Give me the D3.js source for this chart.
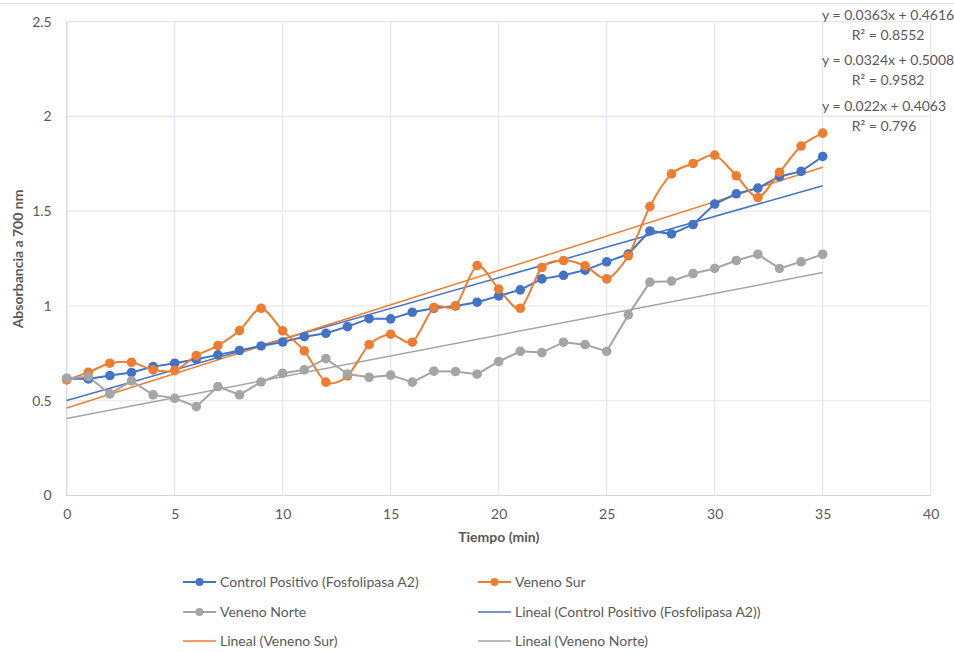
<!DOCTYPE html>
<html>
<head>
<meta charset="utf-8">
<script src="https://cdn.jsdelivr.net/npm/d3@7"></script>
<style>
  body { margin: 0; background: #fff; }
  text { font-family: Lato, "Open Sans", sans-serif; fill: #595959; }
</style>
</head>
<body>
<div id="chart"></div>
<script>
// data
const tiempo = d3.range(0, 36);
const controlPositivo = [0.617,0.615,0.633,0.649,0.680,0.698,0.719,0.742,0.765,0.789,0.810,0.838,0.856,0.891,0.933,0.932,0.967,0.988,1.000,1.020,1.053,1.085,1.143,1.162,1.189,1.233,1.274,1.396,1.380,1.430,1.538,1.592,1.622,1.683,1.710,1.789];
const venenoSur = [0.610,0.650,0.698,0.703,0.663,0.659,0.738,0.791,0.870,0.988,0.869,0.763,0.598,0.631,0.796,0.851,0.809,0.992,1.000,1.213,1.089,0.988,1.203,1.240,1.212,1.143,1.265,1.525,1.697,1.752,1.796,1.687,1.572,1.706,1.844,1.912];
const venenoNorte = [0.619,0.627,0.536,0.605,0.531,0.513,0.469,0.575,0.531,0.599,0.645,0.663,0.722,0.641,0.624,0.635,0.598,0.656,0.654,0.640,0.707,0.761,0.754,0.809,0.796,0.761,0.953,1.126,1.131,1.171,1.198,1.240,1.273,1.198,1.233,1.273];

const seriesNames = ["Control Positivo (Fosfolipasa A2)", "Veneno Sur", "Veneno Norte"];
const seriesColors = ["#4472C4", "#ED7D31", "#A5A5A5"];
// trendline coefficients (as printed on the chart)
const trendSlope = [0.0324, 0.0363, 0.022];
const trendIntercept = [0.5008, 0.4616, 0.4063];
const trendR2 = [0.9582, 0.8552, 0.796];
const trendSlopeLabel = ["0.0324", "0.0363", "0.022"];
const trendInterceptLabel = ["0.5008", "0.4616", "0.4063"];
// order of the equation labels, top to bottom
const labelOrder = [1, 0, 2];

const xTicks = [0, 5, 10, 15, 20, 25, 30, 35, 40];
const yTicks = [0, 0.5, 1, 1.5, 2, 2.5];

const W = 954, H = 652;
const margin = {top: 21.7, right: 23.3, bottom: 156.5, left: 66.7};
const width = W - margin.left - margin.right;
const height = H - margin.top - margin.bottom;
const fontSize = "14px";

const root = d3.select("#chart").append("svg")
    .attr("width", W)
    .attr("height", H);

// chart border (top edge visible)
root.append("line")
    .attr("x1", 0).attr("x2", W)
    .attr("y1", 3.5).attr("y2", 3.5)
    .attr("stroke", "#e3e3e3");

const svg = root.append("g")
    .attr("transform", "translate(" + margin.left + "," + margin.top + ")");

// scale
const x = d3.scaleLinear().domain([0, 40]).range([0, width]);
const y = d3.scaleLinear().domain([0, 2.5]).range([height, 0]);

// grid
svg.append("g")
    .selectAll("line")
    .data(yTicks)
    .join("line")
    .attr("x1", 0).attr("x2", width)
    .attr("y1", d => y(d)).attr("y2", d => y(d))
    .attr("stroke", d => d === 0 ? "#d0d4da" : "#e3e6ea")
    .attr("stroke-width", 1.2);

svg.append("g")
    .selectAll("line")
    .data(xTicks)
    .join("line")
    .attr("x1", d => x(d)).attr("x2", d => x(d))
    .attr("y1", 0).attr("y2", height)
    .attr("stroke", d => d === 0 ? "#d0d4da" : "#e3e6ea")
    .attr("stroke-width", 1.2);

// axis
const xAxis = d3.axisBottom(x).tickValues(xTicks).tickSize(0).tickPadding(14);
const yAxis = d3.axisLeft(y).tickValues(yTicks).tickSize(0).tickPadding(15).tickFormat(d => String(d));

const xg = svg.append("g").attr("transform", "translate(0," + height + ")").call(xAxis);
const yg = svg.append("g").call(yAxis);
[xg, yg].forEach(g => {
    g.select(".domain").remove();
    g.selectAll("text")
        .style("font-family", "Lato, sans-serif")
        .style("font-size", fontSize)
        .attr("fill", "#595959");
});

// axis titles
svg.append("text")
    .attr("x", width / 2)
    .attr("y", height + 47)
    .attr("text-anchor", "middle")
    .style("font-size", fontSize)
    .style("font-weight", "bold")
    .text("Tiempo (min)");

svg.append("text")
    .attr("transform", "translate(" + (18 - margin.left) + "," + (259 - margin.top) + ") rotate(-90)")
    .attr("text-anchor", "middle")
    .attr("dy", "0.35em")
    .style("font-size", fontSize)
    .style("font-weight", "bold")
    .text("Absorbancia a 700 nm");

// trendlines
const trendEnds = [0, 35];
trendSlope.forEach((m, i) => {
    svg.append("line")
        .attr("x1", x(trendEnds[0])).attr("y1", y(trendIntercept[i] + m * trendEnds[0]))
        .attr("x2", x(trendEnds[1])).attr("y2", y(trendIntercept[i] + m * trendEnds[1]))
        .attr("stroke", seriesColors[i])
        .attr("stroke-width", 1.5);
});

// series lines and markers
const allSeries = [controlPositivo, venenoSur, venenoNorte];
const curves = [d3.curveLinear, d3.curveCardinal.tension(0.15), d3.curveLinear];

allSeries.forEach((vals, i) => {
    const data = tiempo.map((t, k) => ({t: t, v: vals[k]}));
    const line = d3.line()
        .x(d => x(d.t))
        .y(d => y(d.v))
        .curve(curves[i]);

    svg.append("path")
        .datum(data)
        .attr("d", line)
        .attr("fill", "none")
        .attr("stroke", seriesColors[i])
        .attr("stroke-width", 2);
});

allSeries.forEach((vals, i) => {
    const data = tiempo.map((t, k) => ({t: t, v: vals[k]}));
    svg.append("g")
        .selectAll("circle")
        .data(data)
        .join("circle")
        .attr("cx", d => x(d.t))
        .attr("cy", d => y(d.v))
        .attr("r", 4.8)
        .attr("fill", seriesColors[i]);
});

// equation labels
const labelLeft = 822;
const labelTops = [20, 65, 111];
labelOrder.forEach((si, k) => {
    const g = root.append("g");
    const t1 = g.append("text")
        .attr("y", labelTops[k])
        .attr("text-anchor", "middle")
        .style("font-size", fontSize)
        .text("y = " + trendSlopeLabel[si] + "x + " + trendInterceptLabel[si]);
    const t2 = g.append("text")
        .attr("y", labelTops[k] + 19.5)
        .attr("text-anchor", "middle")
        .style("font-size", fontSize)
        .text("R² = " + trendR2[si]);
    const w = Math.max(t1.node().getComputedTextLength(), t2.node().getComputedTextLength());
    t1.attr("x", labelLeft + w / 2);
    t2.attr("x", labelLeft + w / 2);
});

// legend
const legendItems = [
    {name: seriesNames[0], color: seriesColors[0], marker: true},
    {name: seriesNames[1], color: seriesColors[1], marker: true},
    {name: seriesNames[2], color: seriesColors[2], marker: true},
    {name: "Lineal (" + seriesNames[0] + ")", color: seriesColors[0], marker: false},
    {name: "Lineal (" + seriesNames[1] + ")", color: seriesColors[1], marker: false},
    {name: "Lineal (" + seriesNames[2] + ")", color: seriesColors[2], marker: false}
];
const legendCols = [183, 478];
const legendRows = [582, 612, 641];

const legend = root.append("g")
    .selectAll("g")
    .data(legendItems)
    .join("g")
    .attr("transform", (d, i) => "translate(" + legendCols[i % 2] + "," + legendRows[Math.floor(i / 2)] + ")");

legend.append("line")
    .attr("x1", 0).attr("x2", 33)
    .attr("stroke", d => d.color)
    .attr("stroke-width", d => d.marker ? 2 : 1.5);

legend.filter(d => d.marker)
    .append("circle")
    .attr("cx", 16.5)
    .attr("r", 4)
    .attr("fill", d => d.color);

legend.append("text")
    .attr("x", 37)
    .attr("dy", "0.35em")
    .style("font-size", fontSize)
    .text(d => d.name);
</script>
</body>
</html>
